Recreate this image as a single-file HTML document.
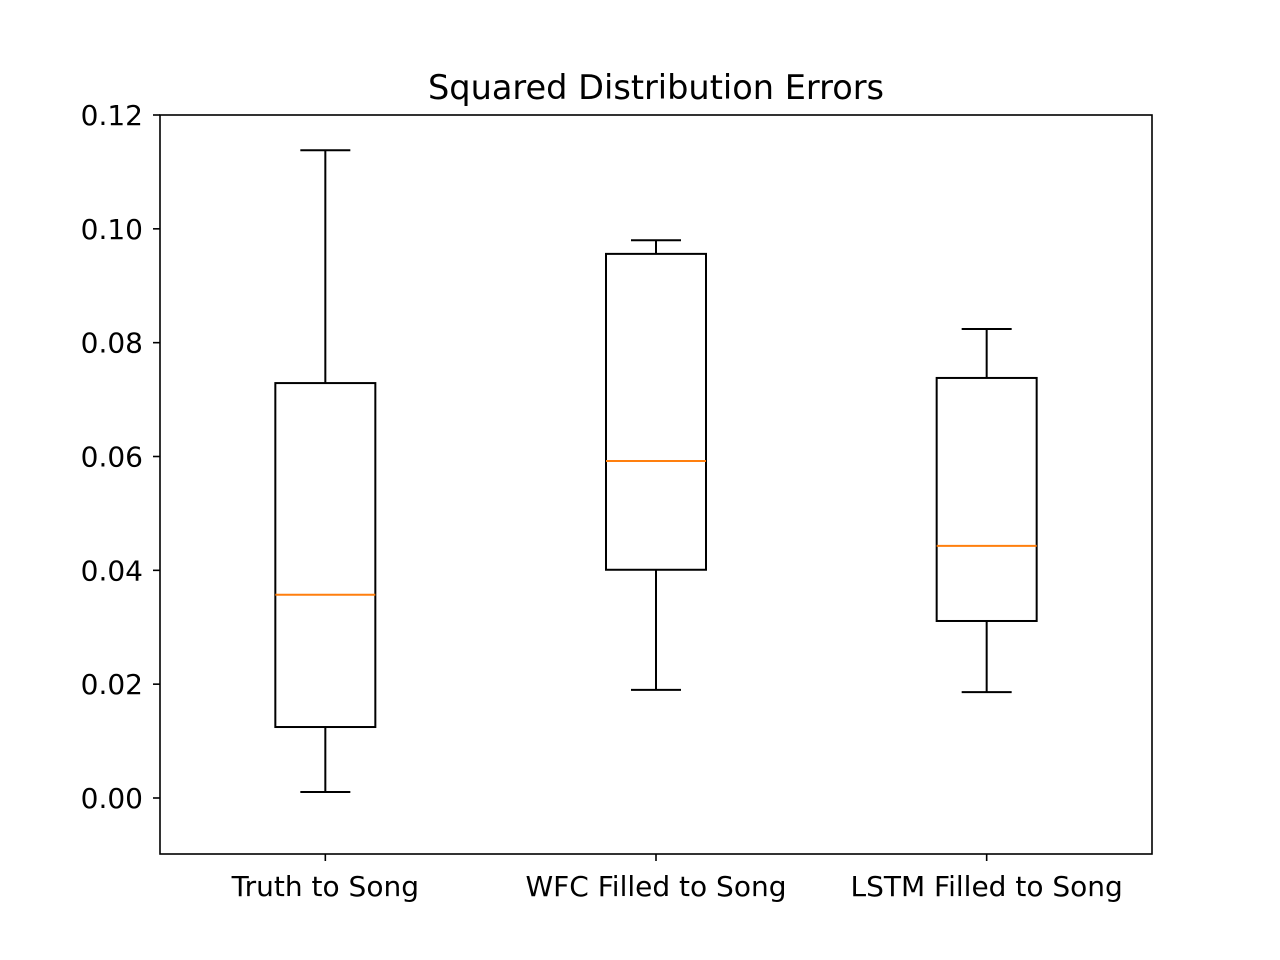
<!DOCTYPE html>
<html><head><meta charset="utf-8"><style>body{margin:0;background:#fff}svg{display:block}text{font-family:"DejaVu Sans","Liberation Sans",sans-serif}</style></head>
<body>
<svg id="chart" width="1280" height="960">
<rect x="0" y="0" width="1280" height="960" fill="#fff"/>
<text x="656" y="99" text-anchor="middle" font-size="33.6">Squared Distribution Errors</text>
<g id="marks"></g>
<rect x="160" y="115" width="992" height="739" fill="none" stroke="#000" stroke-width="1.6"/>
</svg>
<script>
const categories=["Truth to Song","WFC Filled to Song","LSTM Filled to Song"];
const whiskerLow=[0.00105,0.0190,0.0186];
const q1=[0.01247,0.0401,0.0311];
const median=[0.0357,0.0592,0.0443];
const q3=[0.0729,0.0956,0.0738];
const whiskerHigh=[0.1138,0.0980,0.0824];
const yTicks=[0,0.02,0.04,0.06,0.08,0.10,0.12];
const yTickLabels=["0.00","0.02","0.04","0.06","0.08","0.10","0.12"];
const yMin=-0.00984,yMax=0.12;
const L=160,R=1152,T=115,B=854;
const NS="http://www.w3.org/2000/svg";
const g=document.getElementById('marks');
function y(v){return B-(v-yMin)/(yMax-yMin)*(B-T);}
function x(i){return L+(R-L)*(i+0.5)/categories.length;}
function mk(t,a,p){const e=document.createElementNS(NS,t);for(const k in a)e.setAttribute(k,a[k]);(p||g).appendChild(e);return e;}
yTicks.forEach((v,i)=>{
 const l=mk('line',{x1:L-7,x2:L,y1:y(v),y2:y(v),stroke:'#000','stroke-width':1.6});
 
 
 const t=mk('text',{x:L-17,y:y(v)+10,'text-anchor':'end','font-size':28});
 t.textContent=yTickLabels[i];
 
 
});
categories.forEach((c,i)=>{
 const cx=x(i),bw=100,cw=50;
 const l=mk('line',{x1:cx,x2:cx,y1:B,y2:B+7,stroke:'#000','stroke-width':1.6});
 
 
 const t=mk('text',{x:cx,y:B+42,'text-anchor':'middle','font-size':28});
 t.textContent=c;
 
 
 const grp=mk('g',{});
 
 
 const s={stroke:'#000','stroke-width':2,fill:'none'};
 mk('line',Object.assign({x1:cx,x2:cx,y1:y(q3[i]),y2:y(whiskerHigh[i])},s),grp);
 mk('line',Object.assign({x1:cx,x2:cx,y1:y(q1[i]),y2:y(whiskerLow[i])},s),grp);
 mk('line',Object.assign({x1:cx-cw/2,x2:cx+cw/2,y1:y(whiskerHigh[i]),y2:y(whiskerHigh[i])},s),grp);
 mk('line',Object.assign({x1:cx-cw/2,x2:cx+cw/2,y1:y(whiskerLow[i]),y2:y(whiskerLow[i])},s),grp);
 mk('rect',Object.assign({x:cx-bw/2,y:y(q3[i]),width:bw,height:y(q1[i])-y(q3[i])},s),grp);
 mk('line',{x1:cx-bw/2,x2:cx+bw/2,y1:y(median[i]),y2:y(median[i]),stroke:'#ff7f0e','stroke-width':2},grp);
});
</script>
</body></html>
